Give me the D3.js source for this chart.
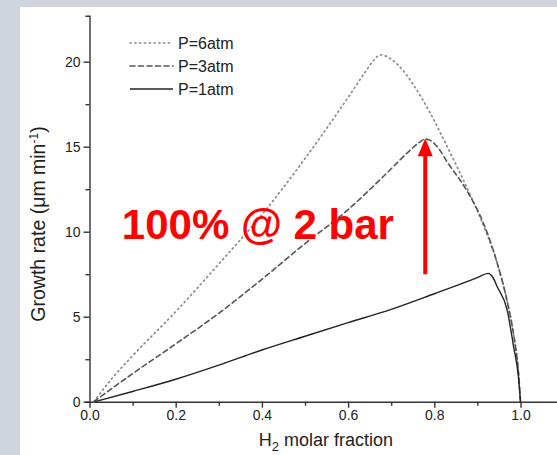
<!DOCTYPE html>
<html>
<head>
<meta charset="utf-8">
<script src="https://cdn.jsdelivr.net/npm/d3@7"></script>
<style>
  body { margin: 0; background: #d0d5dd; }
  svg { display: block; font-family: "Liberation Sans", Arial, sans-serif; }
  .tick text { fill: #222; }
</style>
</head>
<body>
<div id="chart"></div>
<script>
// values
var xTicks = [0, 0.2, 0.4, 0.6, 0.8, 1.0];
var xMinor = [0.1, 0.3, 0.5, 0.7, 0.9, 1.1];
var yTicks = [0, 5, 10, 15, 20];
var yMinor = [2.5, 7.5, 12.5, 17.5];

var p6x = [0.01, 0.05, 0.1, 0.2, 0.3, 0.4, 0.5, 0.6, 0.64, 0.66, 0.675, 0.7, 0.72, 0.75, 0.79, 0.83, 0.87, 0.907, 0.946, 0.97, 0.985, 0.995, 1.0];
var p6y = [0, 1.3, 2.7, 5.3, 8.1, 11.0, 14.3, 17.9, 19.4, 20.1, 20.4, 20.15, 19.7, 18.7, 17.0, 15.0, 12.9, 10.8, 8.15, 5.8, 3.8, 1.8, 0];

var p3x = [0.01, 0.1, 0.2, 0.3, 0.4, 0.5, 0.6, 0.69, 0.74, 0.765, 0.779, 0.795, 0.81, 0.83, 0.876, 0.914, 0.946, 0.97, 0.985, 0.995, 1.0];
var p3y = [0, 1.65, 3.4, 5.2, 7.2, 9.3, 11.3, 13.45, 14.7, 15.25, 15.45, 15.3, 14.9, 14.1, 12.4, 10.5, 8.15, 5.8, 3.8, 1.8, 0];

var p1x = [0.013, 0.1, 0.2, 0.3, 0.4, 0.5, 0.6, 0.7, 0.8, 0.9, 0.925, 0.935, 0.946, 0.969, 0.984, 0.995, 1.0];
var p1y = [0, 0.6, 1.32, 2.15, 3.04, 3.85, 4.65, 5.43, 6.35, 7.3, 7.55, 7.35, 6.76, 5.4, 3.24, 1.5, 0];

var seriesNames = ["P=6atm", "P=3atm", "P=1atm"];
var seriesX = [p6x, p3x, p1x];
var seriesY = [p6y, p3y, p1y];

var W = 557, H = 455;
var x0 = 89.5, yBase = 401.7;

var svg = d3.select("#chart").append("svg")
  .attr("width", W)
  .attr("height", H);

// grey frame + white panel
svg.append("rect").attr("width", W).attr("height", H).attr("fill", "#d0d5dd");
svg.append("rect").attr("x", 20).attr("y", 7).attr("width", W - 20).attr("height", H - 7).attr("fill", "#fff");

var x = d3.scaleLinear().domain([0, 1.1]).range([x0, x0 + 1.1 * 431]);
var y = d3.scaleLinear().domain([0, 22.7]).range([yBase, yBase - 22.7 * 17]);

var styles = [
  { color: "#8a8a8a", dash: "1.2,3.6", width: 1.7 },
  { color: "#555", dash: "5,3.5", width: 1.6 },
  { color: "#222", dash: null, width: 1.4 }
];

// axes
svg.append("g").attr("transform", "translate(0," + yBase + ")")
  .call(d3.axisBottom(x).tickValues(xTicks).tickSize(6).tickSizeOuter(0).tickPadding(2)
    .tickFormat(d3.format(".1f")));
svg.append("g").attr("transform", "translate(0," + yBase + ")")
  .call(d3.axisBottom(x).tickValues(xMinor).tickSize(4).tickFormat(""))
  .select(".domain").remove();

svg.append("g").attr("transform", "translate(" + x0 + ",0)")
  .call(d3.axisLeft(y).tickValues(yTicks).tickSize(6).tickSizeOuter(4).tickPadding(3));
svg.append("g").attr("transform", "translate(" + x0 + ",0)")
  .call(d3.axisLeft(y).tickValues(yMinor).tickSize(4).tickFormat(""))
  .select(".domain").remove();

svg.selectAll(".domain, .tick line").attr("stroke", "#333").attr("stroke-width", 1.4);
svg.selectAll(".tick text").attr("font-size", 14).attr("font-family", "Liberation Sans, Arial, sans-serif");

// axis titles
var xt = svg.append("text")
  .attr("x", 326).attr("y", 446)
  .attr("text-anchor", "middle")
  .attr("font-size", 18)
  .attr("fill", "#222");
xt.append("tspan").text("H");
xt.append("tspan").attr("font-size", 13).attr("dy", 5).text("2");
xt.append("tspan").attr("dy", -5).text(" molar fraction");

var yt = svg.append("text")
  .attr("transform", "translate(45," + 224 + ") rotate(-90)")
  .attr("text-anchor", "middle")
  .attr("font-size", 19.5)
  .attr("fill", "#222");
yt.append("tspan").text("Growth rate (\u03bcm min");
yt.append("tspan").attr("font-size", 12).attr("dy", -7).text("-1");
yt.append("tspan").attr("dy", 7).text(")");

// curves
var line = d3.line()
  .x(function(d) { return x(d[0]); })
  .y(function(d) { return y(d[1]); })
  .curve(d3.curveMonotoneX);

seriesNames.forEach(function(name, i) {
  var pts = seriesX[i].map(function(v, j) { return [v, seriesY[i][j]]; });
  svg.append("path")
    .attr("d", line(pts))
    .attr("fill", "none")
    .attr("stroke", styles[i].color)
    .attr("stroke-width", styles[i].width)
    .attr("stroke-linecap", styles[i].dash ? "round" : "butt")
    .attr("stroke-dasharray", styles[i].dash);
});

// legend
seriesNames.forEach(function(name, i) {
  var ly = 43 + i * 23;
  svg.append("line")
    .attr("x1", 130).attr("x2", 173)
    .attr("y1", ly).attr("y2", ly)
    .attr("stroke", styles[i].color)
    .attr("stroke-width", styles[i].width)
    .attr("stroke-linecap", styles[i].dash ? "round" : "butt")
    .attr("stroke-dasharray", styles[i].dash);
  svg.append("text")
    .attr("x", 178).attr("y", ly)
    .attr("dy", "0.36em")
    .attr("font-size", 16)
    .attr("fill", "#222")
    .text(name);
});

// red annotation
var arrowX = x(0.779), tipY = y(15.5);
svg.append("line")
  .attr("x1", arrowX).attr("x2", arrowX)
  .attr("y1", y(7.5)).attr("y2", tipY + 15)
  .attr("stroke", "#ff0000")
  .attr("stroke-width", 4);
svg.append("path")
  .attr("d", "M" + arrowX + "," + tipY + "L" + (arrowX - 7.5) + "," + (tipY + 18) + "L" + (arrowX + 7.5) + "," + (tipY + 18) + "Z")
  .attr("fill", "#ff0000");

svg.append("text")
  .attr("x", x(0.075)).attr("y", y(9.55))
  .attr("font-size", 42)
  .attr("font-weight", "bold")
  .attr("fill", "#ff0000")
  .text("100% @ 2 bar");
</script>
</body>
</html>
